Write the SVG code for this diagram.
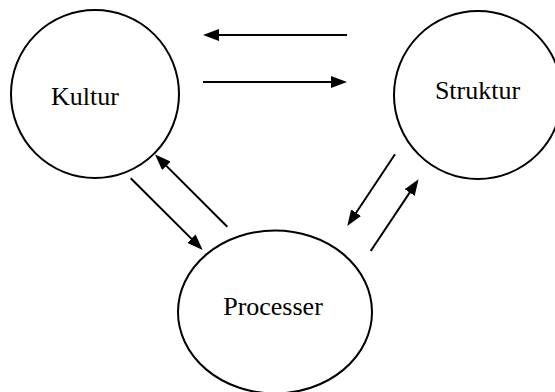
<svg xmlns="http://www.w3.org/2000/svg" width="555" height="392" viewBox="0 0 555 392">
  <style>
    .node { fill: #ffffff; stroke: #000000; stroke-width: 2; }
    .label { font-family: "Liberation Serif", "Times New Roman", serif; font-size: 26px; fill: #000000; text-anchor: middle; }
    .link { fill: none; stroke: #000000; stroke-width: 2; marker-end: url(#arrow); }
  </style>
  <defs>
    <marker id="arrow" markerUnits="userSpaceOnUse" markerWidth="16" markerHeight="12" refX="6" refY="6" orient="auto">
      <path d="M0,0 L16,6 L0,12 Z" fill="#000000"/>
    </marker>
  </defs>
  <rect width="555" height="392" fill="#ffffff"/>

  <g id="kultur">
    <circle class="node" cx="95" cy="94" r="84"/>
    <text class="label" x="85" y="105">Kultur</text>
  </g>

  <g id="struktur">
    <circle class="node" cx="478" cy="95" r="84"/>
    <text class="label" x="477.5" y="99">Struktur</text>
  </g>

  <g id="processer">
    <ellipse class="node" cx="275" cy="312" rx="97" ry="81.5"/>
    <text class="label" x="273" y="315">Processer</text>
  </g>

  <g id="connectors">
    <line class="link" x1="347" y1="35" x2="213" y2="35"/>
    <line class="link" x1="203" y1="82" x2="337" y2="82"/>
    <line class="link" x1="130.7" y1="178.3" x2="195.6" y2="242.9"/>
    <line class="link" x1="227.3" y1="226.7" x2="162.1" y2="161.6"/>
    <line class="link" x1="395" y1="154.3" x2="352.8" y2="217.7"/>
    <line class="link" x1="370.7" y1="251" x2="413" y2="187.6"/>
  </g>
</svg>
